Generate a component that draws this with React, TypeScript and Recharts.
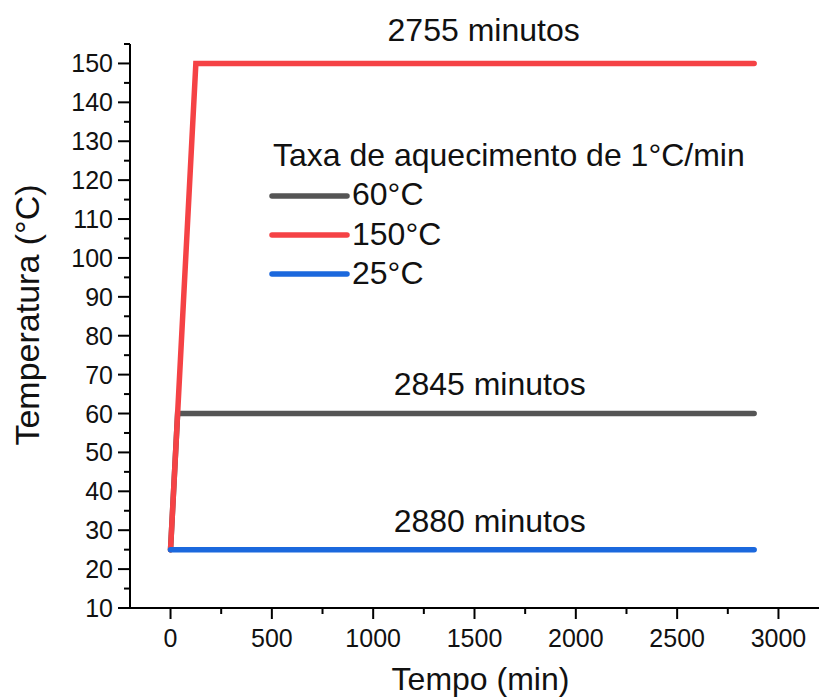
import { LineChart, Line, XAxis, YAxis, Legend, ReferenceDot } from "recharts";

const FONT = "'Liberation Sans', Arial, Helvetica, sans-serif";

// tempo (min) e temperatura (°C) de cada patamar
const tempo60 = [0, 35, 2880];
const temp60 = [25, 60, 60];
const tempo150 = [0, 125, 2880];
const temp150 = [25, 150, 150];
const tempo25 = [0, 2880];
const temp25 = [25, 25];

const seriesNames = ["60°C", "150°C", "25°C"];
const seriesColors = ["#555555", "#F54245", "#1B68DD"];

const xMajorTicks = [0, 500, 1000, 1500, 2000, 2500, 3000];
const xMinorTicks = [250, 750, 1250, 1750, 2250, 2750];
const yMajorTicks = [10, 20, 30, 40, 50, 60, 70, 80, 90, 100, 110, 120, 130, 140, 150];
const yMinorTicks = [15, 25, 35, 45, 55, 65, 75, 85, 95, 105, 115, 125, 135, 145, 155];

const annotationText = ["2755 minutos", "2845 minutos", "2880 minutos"];
const annotationX = [1545, 1575, 1575];
const annotationY = [150, 60, 25];
const annotationOffset = [22, 19, 18];

const legendTitle = "Taxa de aquecimento de 1°C/min";

const toRows = (xs: number[], ys: number[]) => xs.map((t, i) => ({ tempo: t, temp: ys[i] }));

const data60 = toRows(tempo60, temp60);
const data150 = toRows(tempo150, temp150);
const data25 = toRows(tempo25, temp25);

const xTicks = [...xMajorTicks, ...xMinorTicks].sort((a, b) => a - b);
const yTicks = [...yMajorTicks, ...yMinorTicks].sort((a, b) => a - b);

const TICK = 11;
const GAP = 4;

const YTick = (props: any) => {
  const { x, y, payload } = props;
  const axisX = x + TICK + GAP;
  const major = yMajorTicks.includes(payload.value);
  return (
    <g>
      <line x1={axisX - (major ? 12 : 6)} x2={axisX} y1={y} y2={y} stroke="#000" strokeWidth={2} />
      {major && (
        <text x={axisX - 17} y={y} dy="0.36em" textAnchor="end" fontSize={25} fontFamily={FONT} fill="#111">
          {payload.value}
        </text>
      )}
    </g>
  );
};

const XTick = (props: any) => {
  const { x, y, payload } = props;
  const axisY = y - TICK - GAP;
  const major = xMajorTicks.includes(payload.value);
  return (
    <g>
      <line x1={x} x2={x} y1={axisY} y2={axisY + (major ? 11 : 6)} stroke="#000" strokeWidth={2} />
      {major && (
        <text x={x} y={axisY + 39} textAnchor="middle" fontSize={25} fontFamily={FONT} fill="#111">
          {payload.value}
        </text>
      )}
    </g>
  );
};

const LegendBox = () => (
  <svg width={520} height={165} style={{ display: "block", overflow: "visible" }}>
    <text x={5} y={36} fontSize={32} fontFamily={FONT} fill="#111">
      {legendTitle}
    </text>
    {seriesNames.map((name, i) => (
      <g key={name}>
        <line x1={4} x2={79} y1={66 + i * 39} y2={66 + i * 39} stroke={seriesColors[i]} strokeWidth={5.5} strokeLinecap="round" />
        <text x={84} y={75 + i * 39.5} fontSize={32} fontFamily={FONT} fill="#111">
          {name}
        </text>
      </g>
    ))}
  </svg>
);

export default function App() {
  return (
    <div style={{ position: "absolute", left: 0, top: 0, background: "#fff" }}>
      <LineChart width={819} height={697} margin={{ top: 44, right: 0, bottom: 0, left: 0 }} style={{ fontFamily: FONT }}>
        <XAxis
          dataKey="tempo"
          type="number"
          domain={[-200, 3200]}
          ticks={xTicks}
          interval={0}
          tick={<XTick />}
          tickLine={false}
          tickSize={TICK}
          tickMargin={GAP}
          height={89}
          axisLine={{ stroke: "#000", strokeWidth: 2 }}
          allowDuplicatedCategory={false}
          label={{
            content: ({ viewBox }: any) => (
              <text
                x={viewBox.x + viewBox.width / 2 + 6}
                y={viewBox.y + 82}
                textAnchor="middle"
                fontSize={32}
                fontFamily={FONT}
                fill="#111"
              >
                Tempo (min)
              </text>
            ),
          }}
        />
        <YAxis
          type="number"
          domain={[10, 155]}
          ticks={yTicks}
          interval={0}
          tick={<YTick />}
          tickLine={false}
          tickSize={TICK}
          tickMargin={GAP}
          width={130}
          axisLine={{ stroke: "#000", strokeWidth: 2 }}
          label={{
            content: ({ viewBox }: any) => {
              const cx = viewBox.x + 39;
              const cy = viewBox.y + viewBox.height / 2 - 11;
              return (
                <text
                  x={cx}
                  y={cy}
                  transform={`rotate(-90, ${cx}, ${cy})`}
                  textAnchor="middle"
                  fontSize={34}
                  fontFamily={FONT}
                  fill="#111"
                >
                  Temperatura (°C)
                </text>
              );
            },
          }}
        />
        <Legend
          layout="vertical"
          align="center"
          verticalAlign="middle"
          content={<LegendBox />}
          wrapperStyle={{ left: 268, top: 130, width: 520, height: 165 }}
        />
        <Line
          data={data60}
          dataKey="temp"
          name={seriesNames[0]}
          type="linear"
          stroke={seriesColors[0]}
          strokeWidth={5.5}
          strokeLinecap="round"
          dot={false}
          activeDot={false}
          isAnimationActive={false}
        />
        <Line
          data={data150}
          dataKey="temp"
          name={seriesNames[1]}
          type="linear"
          stroke={seriesColors[1]}
          strokeWidth={5.5}
          strokeLinecap="round"
          dot={false}
          activeDot={false}
          isAnimationActive={false}
        />
        <Line
          data={data25}
          dataKey="temp"
          name={seriesNames[2]}
          type="linear"
          stroke={seriesColors[2]}
          strokeWidth={5.5}
          strokeLinecap="round"
          dot={false}
          activeDot={false}
          isAnimationActive={false}
        />
        {annotationText.map((txt, i) => (
          <ReferenceDot
            key={txt}
            x={annotationX[i]}
            y={annotationY[i]}
            r={0}
            stroke="none"
            fill="none"
            ifOverflow="visible"
            label={{ value: txt, position: "top", offset: annotationOffset[i], fontSize: 32, fill: "#111", fontFamily: FONT }}
          />
        ))}
      </LineChart>
    </div>
  );
}
